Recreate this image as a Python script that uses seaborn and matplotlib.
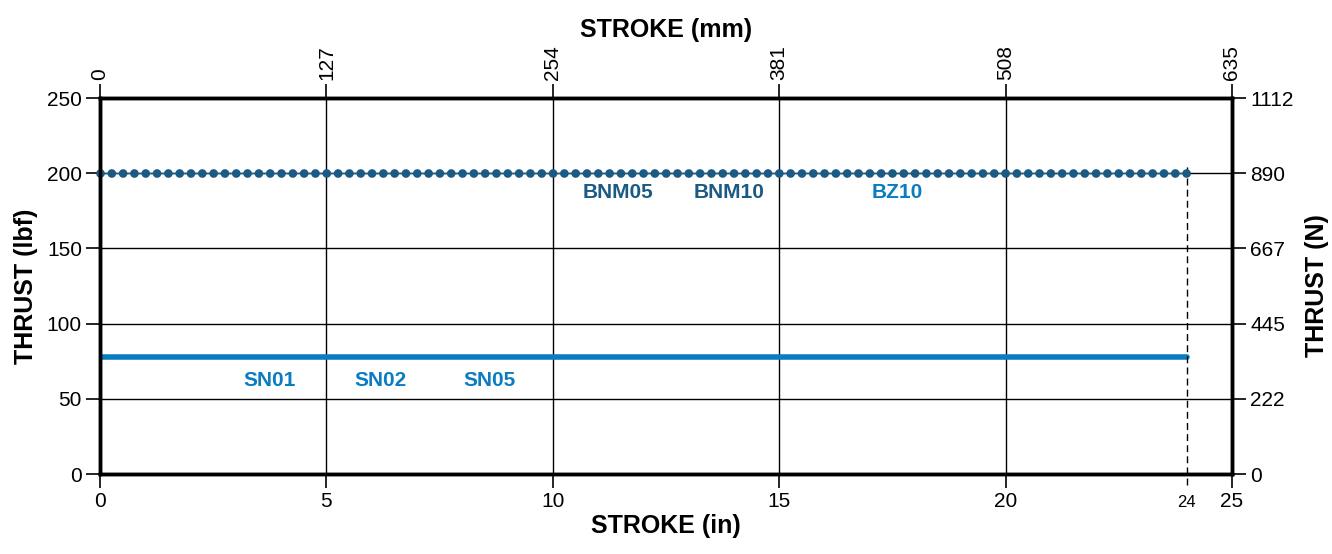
import matplotlib
matplotlib.use("Agg")
import matplotlib.pyplot as plt
import seaborn as sns
import pandas as pd

# data
stroke_in_ticks = [0, 5, 10, 15, 20, 25]
stroke_mm_labels = ["0", "127", "254", "381", "508", "635"]
thrust_lbf_ticks = [0, 50, 100, 150, 200, 250]
thrust_n_labels = ["0", "222", "445", "667", "890", "1112"]

max_stroke = 24
bnm_stroke = [0, 24]
bnm_thrust = [200, 200]
sn_stroke = [0, 24]
sn_thrust = [78, 78]

bnm_labels = ["BNM05", "BNM10", "BZ10"]
bnm_label_x = [11.45, 13.9, 17.6]
bnm_label_y = 187
sn_labels = ["SN01", "SN02", "SN05"]
sn_label_x = [3.75, 6.2, 8.6]
sn_label_y = 62

dark_blue = "#1b5a85"
light_blue = "#0a7dc2"

sns.set_theme(style="white")
plt.rcParams["font.family"] = ["Liberation Sans", "DejaVu Sans"]
plt.rcParams["text.color"] = "black"
plt.rcParams["axes.labelcolor"] = "black"
plt.rcParams["xtick.color"] = "black"
plt.rcParams["ytick.color"] = "black"
plt.rcParams["axes.edgecolor"] = "black"

fig = plt.figure(figsize=(13.32, 5.54), dpi=100)
ax = fig.add_axes([100 / 1332, 1 - 474 / 554, 1132 / 1332, 376 / 554])

df_bnm = pd.DataFrame({"stroke": bnm_stroke, "thrust": bnm_thrust})
df_sn = pd.DataFrame({"stroke": sn_stroke, "thrust": sn_thrust})

ax.grid(True, color="black", linewidth=1.0)
ax.set_axisbelow(True)

sns.lineplot(data=df_bnm, x="stroke", y="thrust", ax=ax, color=dark_blue, linewidth=1.0)
sns.lineplot(data=df_bnm, x="stroke", y="thrust", ax=ax, color=dark_blue, linewidth=6.3)
dot_line = ax.lines[-1]
dot_line.set_linestyle((0, (0.001, 1.292)))
dot_line.set_dash_capstyle("round")
dot_line.set_zorder(5)
dot_line.set_clip_on(False)
sns.lineplot(data=df_sn, x="stroke", y="thrust", ax=ax, color=light_blue, linewidth=4.0)

# end-of-stroke marker
ax.plot([max_stroke, max_stroke], [-7, 205], color="black", linewidth=1.0,
        linestyle=(0, (5, 3)), clip_on=False)
ax.text(max_stroke, -14, str(max_stroke), ha="center", va="top", fontsize=12)

for lab, x in zip(bnm_labels, bnm_label_x):
    c = light_blue if lab.startswith("BZ") else dark_blue
    ax.text(x, bnm_label_y, lab, ha="center", va="center", fontsize=15,
            fontweight="bold", color=c)
for lab, x in zip(sn_labels, sn_label_x):
    ax.text(x, sn_label_y, lab, ha="center", va="center", fontsize=15,
            fontweight="bold", color=light_blue)

ax.set_xlim(0, 25)
ax.set_ylim(0, 250)
ax.set_xticks(stroke_in_ticks)
ax.set_yticks(thrust_lbf_ticks)
ax.tick_params(axis="both", which="major", direction="out", length=10, width=1.2,
               labelsize=15, bottom=True, left=True, pad=3)
ax.set_xlabel("STROKE (in)", fontsize=18, fontweight="bold", labelpad=2)
ax.set_ylabel("THRUST (lbf)", fontsize=18, fontweight="bold", labelpad=6)
for s in ax.spines.values():
    s.set_linewidth(2.5)

ax_r = ax.twinx()
ax_r.set_ylim(0, 250)
ax_r.set_yticks(thrust_lbf_ticks)
ax_r.set_yticklabels(thrust_n_labels)
ax_r.tick_params(axis="y", direction="out", length=10, width=1.2, labelsize=15,
                 right=True, pad=3)
ax_r.set_ylabel("THRUST (N)", fontsize=18, fontweight="bold", labelpad=8)
ax_r.grid(False)
for s in ax_r.spines.values():
    s.set_linewidth(2.5)

ax_t = ax.twiny()
ax_t.set_xlim(0, 25)
ax_t.set_xticks(stroke_in_ticks)
ax_t.set_xticklabels(stroke_mm_labels, rotation=90)
ax_t.tick_params(axis="x", direction="out", length=10, width=1.2, labelsize=15,
                 top=True, pad=3)
ax_t.set_xlabel("STROKE (mm)", fontsize=18, fontweight="bold", labelpad=6)
ax_t.grid(False)

fig.savefig("out.png", dpi=100)
